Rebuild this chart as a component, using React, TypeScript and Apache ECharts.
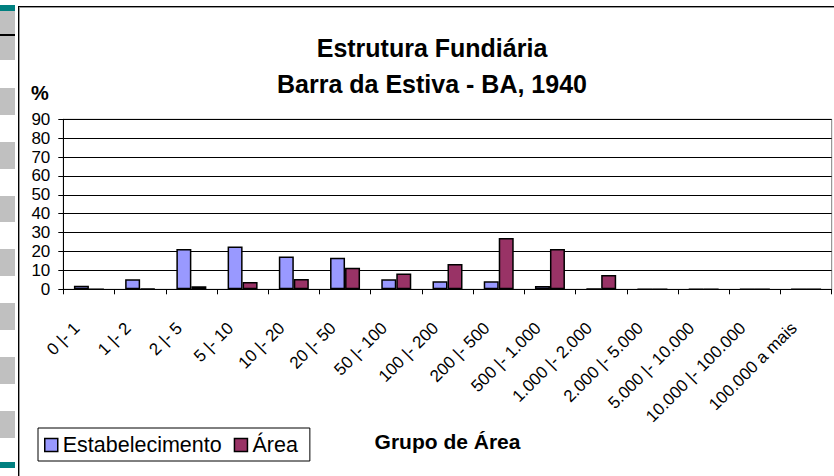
import React, { useEffect, useRef } from "react";
import * as echarts from "echarts";

const categories = [
  "0 |- 1",
  "1 |- 2",
  "2 |- 5",
  "5 |- 10",
  "10 |- 20",
  "20 |- 50",
  "50 |- 100",
  "100 |- 200",
  "200 |- 500",
  "500 |- 1.000",
  "1.000 |- 2.000",
  "2.000 |- 5.000",
  "5.000 |- 10.000",
  "10.000 |- 100.000",
  "100.000 a mais",
];
const estabelecimento = [1.9, 5.3, 21.3, 22.6, 17.3, 16.7, 5.3, 4.2, 4.2, 1.8, 0.2, 0, 0.1, 0, 0];
const area = [0, 0.3, 1.6, 3.9, 5.5, 11.4, 8.3, 13.4, 27.2, 21.3, 7.6, 0, 0, 0, 0];
const yTicks = { min: 0, max: 90, interval: 10 };

const FONT = "'Liberation Sans', Arial, sans-serif";

export default function App() {
  const ref = useRef<HTMLDivElement>(null);
  useEffect(() => {
    if (!ref.current) return;
    const chart = echarts.init(ref.current, undefined, { renderer: "svg" });
    const strip: any[] = [];
    const grayBlocks = [
      [11, 49],
      [88, 27],
      [142, 27],
      [196, 26],
      [249, 27],
      [303, 27],
      [357, 27],
      [411, 27],
    ];
    grayBlocks.forEach(([y, h]) =>
      strip.push({ type: "rect", shape: { x: 0, y, width: 15, height: h }, style: { fill: "#C0C0C0" }, silent: true })
    );
    strip.push({ type: "rect", shape: { x: 0, y: 5, width: 15, height: 6 }, style: { fill: "#008080" }, silent: true });
    strip.push({ type: "rect", shape: { x: 0, y: 462, width: 15, height: 6 }, style: { fill: "#008080" }, silent: true });
    strip.push({ type: "rect", shape: { x: 0, y: 34, width: 15, height: 2 }, style: { fill: "#000" }, silent: true });
    // frame
    strip.push({ type: "line", shape: { x1: 18.5, y1: 6, x2: 18.5, y2: 476 }, style: { stroke: "#000", lineWidth: 1 }, silent: true });
    strip.push({ type: "line", shape: { x1: 19.5, y1: 7, x2: 19.5, y2: 476 }, style: { stroke: "#999", lineWidth: 1 }, silent: true });
    strip.push({ type: "line", shape: { x1: 18, y1: 6.5, x2: 834, y2: 6.5 }, style: { stroke: "#000", lineWidth: 1 }, silent: true });
    strip.push({ type: "line", shape: { x1: 19, y1: 7.5, x2: 834, y2: 7.5 }, style: { stroke: "#999", lineWidth: 1 }, silent: true });
    strip.push({
      type: "text",
      x: 40,
      y: 93,
      style: { text: "%", font: `bold 20px ${FONT}`, fill: "#000", textAlign: "center", textVerticalAlign: "middle" },
      silent: true,
    });

    chart.setOption({
      animation: false,
      backgroundColor: "#fff",
      textStyle: { fontFamily: FONT, color: "#000" },
      title: {
        text: "Estrutura Fundiária\nBarra da Estiva - BA, 1940",
        left: 427,
        top: 25,
        textAlign: "center",
        textStyle: { fontFamily: FONT, fontSize: 25, fontWeight: "bold", color: "#000", lineHeight: 36 },
      },
      legend: {
        left: 38,
        top: 428,
        orient: "horizontal",
        backgroundColor: "#fff",
        borderColor: "#000",
        borderWidth: 1,
        borderRadius: 0,
        padding: [6, 12, 5, 6],
        itemGap: 12,
        itemWidth: 13,
        itemHeight: 13,
        icon: "rect",
        textStyle: { fontFamily: FONT, fontSize: 21.5, color: "#000" },
        data: [
          { name: "Estabelecimento", itemStyle: { color: "#9999FF", borderColor: "#000", borderWidth: 1.5 } },
          { name: "Área", itemStyle: { color: "#993366", borderColor: "#000", borderWidth: 1.5 } },
        ],
      },
      grid: {
        left: 63.3,
        right: 2.3,
        top: 119.3,
        bottom: 186.7,
        show: true,
        borderColor: "#808080",
        borderWidth: 1,
        backgroundColor: "transparent",
        containLabel: false,
      },
      xAxis: {
        type: "category",
        data: categories,
        name: "Grupo de Área",
        nameLocation: "middle",
        nameGap: 142,
        nameTextStyle: { fontFamily: FONT, fontSize: 21, fontWeight: "bold", color: "#000" },
        axisLine: { lineStyle: { color: "#000", width: 1 } },
        axisTick: { show: true, inside: false, length: 5, lineStyle: { color: "#000" } },
        axisLabel: {
          rotate: 45,
          fontSize: 17,
          fontFamily: FONT,
          color: "#000",
          margin: 24,
          interval: 0,
          padding: [0, 17, 0, 0],
        },
        splitLine: { show: false },
      },
      yAxis: {
        type: "value",
        min: yTicks.min,
        max: yTicks.max,
        interval: yTicks.interval,
        axisLine: { show: true, lineStyle: { color: "#000", width: 1 } },
        axisTick: { show: true, inside: false, length: 5, lineStyle: { color: "#000" } },
        axisLabel: { fontSize: 17, fontFamily: FONT, color: "#000", margin: 13 },
        splitLine: { show: true, lineStyle: { color: "#000", width: 1 } },
      },
      series: [
        {
          name: "Estabelecimento",
          type: "bar",
          data: estabelecimento,
          barWidth: 15,
          barGap: "0%",
          itemStyle: { color: "#9999FF", borderColor: "#000", borderWidth: 1.5 },
        },
        {
          name: "Área",
          type: "bar",
          data: area,
          barWidth: 15,
          barGap: "0%",
          itemStyle: { color: "#993366", borderColor: "#000", borderWidth: 1.5 },
        },
      ],
      graphic: { elements: strip },
    });
    return () => chart.dispose();
  }, []);
  return (
    <div
      ref={ref}
      style={{ position: "absolute", left: 0, top: 0, width: 834, height: 476 }}
    />
  );
}
